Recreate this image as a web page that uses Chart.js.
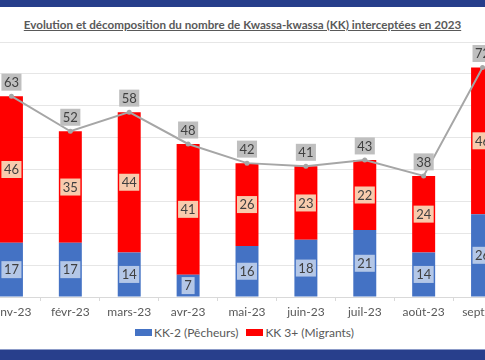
<!DOCTYPE html>
<html>
<head>
<meta charset="utf-8">
<script src="https://cdn.jsdelivr.net/npm/chart.js@4.4.1/dist/chart.umd.min.js"></script>
<style>
  html, body { margin:0; padding:0; width:485px; height:360px; overflow:hidden; background:#ffffff; position:relative; font-family:Lato, "Open Sans", sans-serif; }
  #topband { position:absolute; left:0; top:0; width:485px; height:7px; background:#263e8b; }
  #botband { position:absolute; left:0; top:349px; width:485px; height:11px; background:#283f8c; border-top:1px solid #8c9bc8; }
  #title { position:absolute; top:13px; left:0; width:485px; text-align:center; white-space:nowrap; }
  #title span { font-weight:bold; color:#595959; text-decoration:underline; font-size:13px; }
  #wrap { position:absolute; left:-18px; top:30px; width:530px; height:290px; }
  #legend { position:absolute; top:324px; left:2px; width:485px; text-align:center; white-space:nowrap; font-size:12px; color:#595959; line-height:16px; }
  .lg { display:inline-block; vertical-align:middle; }
  .sw { display:inline-block; width:17px; height:7px; vertical-align:middle; margin-right:2px; position:relative; top:-1px; }
</style>
</head>
<body>
<div id="topband"></div>
<div id="title"><span id="tt">Evolution et décomposition du nombre de Kwassa-kwassa (KK) interceptées en 2023</span></div>
<div id="wrap"><canvas id="c" width="530" height="290"></canvas></div>
<div id="legend"><span class="lg" style="margin-right:8px"><span class="sw" style="background:#4472c4"></span>KK-2 (Pêcheurs)</span><span class="lg"><span class="sw" style="background:#ff0000"></span>KK 3+ (Migrants)</span></div>
<div id="botband"></div>
<script>
const categories = ["janv-23","févr-23","mars-23","avr-23","mai-23","juin-23","juil-23","août-23","sept-23"];
const pecheurs = [17,17,14,7,16,18,21,14,26];
const migrants = [46,35,44,41,26,23,22,24,46];
const totals = [63,52,58,48,42,41,43,38,72];
const yTicks = [0,10,20,30,40,50,60,70,80];

// fit title width
(function(){
  const t = document.getElementById('tt');
  let fs = 13;
  t.style.fontSize = fs + 'px';
  const w = t.getBoundingClientRect().width;
  fs = fs * 438 / w;
  t.style.fontSize = fs.toFixed(2) + 'px';
})();

const labelPlugin = {
  id: 'boxLabels',
  afterDatasetsDraw(chart) {
    const ctx = chart.ctx;
    ctx.save();
    ctx.font = '13px Lato, "Open Sans", sans-serif';
    ctx.textAlign = 'center';
    ctx.textBaseline = 'middle';
    const drawBox = (x, y, txt, bg) => {
      const tw = ctx.measureText(txt).width;
      const w = Math.max(tw + 5, 13), h = 17;
      ctx.fillStyle = bg;
      ctx.fillRect(x - w/2, y - h/2, w, h);
      ctx.fillStyle = '#404040';
      ctx.fillText(txt, x, y + 0.5);
    };
    [[0, '#b4c7e7'], [1, '#f8cbad']].forEach(([di, bg]) => {
      const meta = chart.getDatasetMeta(di);
      const data = chart.data.datasets[di].data;
      meta.data.forEach((bar, i) => {
        drawBox(bar.x, (bar.y + bar.base) / 2, String(data[i]), bg);
      });
    });
    const lm = chart.getDatasetMeta(2);
    lm.data.forEach((pt, i) => {
      drawBox(pt.x, pt.y - 14, String(totals[i]), '#bfbfbf');
    });
    ctx.restore();
  }
};

const W0 = 530, H0 = 290;
const chart = new Chart(document.getElementById('c'), {
  type: 'bar',
  data: {
    labels: categories,
    datasets: [
      { label: 'KK-2 (Pêcheurs)', data: pecheurs, backgroundColor: '#4472c4', stack: 'kk', order: 2,
        categoryPercentage: 1, barPercentage: 0.39 },
      { label: 'KK 3+ (Migrants)', data: migrants, backgroundColor: '#ff0000', stack: 'kk', order: 2,
        categoryPercentage: 1, barPercentage: 0.39 },
      { type: 'line', label: 'Total', data: totals, stack: 'tot', order: 1,
        borderColor: '#a6a6a6', backgroundColor: '#a6a6a6', borderWidth: 2,
        pointRadius: 2.5, pointBackgroundColor: '#a6a6a6', pointBorderWidth: 0, tension: 0 }
    ]
  },
  options: {
    responsive: false,
    animation: false,
    maintainAspectRatio: false,
    layout: { padding: { top: 12, left: 0, right: 0, bottom: 0 } },
    plugins: { legend: { display: false }, tooltip: { enabled: false }, title: { display: false } },
    scales: {
      x: {
        stacked: true,
        offset: true,
        grid: { display: true, drawOnChartArea: false, tickLength: 4, color: '#d9d9d9', offset: true },
        border: { display: true, color: '#d9d9d9' },
        ticks: { color: '#595959', font: { family: 'Lato, "Open Sans", sans-serif', size: 12 }, padding: 4, maxRotation: 0, autoSkip: false },
        afterFit: s => { s.height = 23; s.paddingLeft = 0; s.paddingRight = 0; }
      },
      y: {
        stacked: true,
        min: 0, max: 80,
        afterBuildTicks: s => { s.ticks = yTicks.map(v => ({ value: v })); },
        grid: { color: '#e6e6e6', drawTicks: false },
        border: { display: false },
        ticks: { display: false },
        afterFit: s => { s.width = 0; }
      }
    }
  },
  plugins: [labelPlugin]
});

// Align the plot area so that category centres match the reference
(function(){
  const desiredLeft = -18.1, desiredRight = 512;
  const ca = chart.chartArea;
  const extra = (W0 - (ca.right - ca.left));
  const newW = Math.round((desiredRight - desiredLeft) + extra);
  chart.resize(newW, H0);
  const ca2 = chart.chartArea;
  const wrap = document.getElementById('wrap');
  wrap.style.width = newW + 'px';
  wrap.style.left = (desiredLeft - ca2.left) + 'px';
})();
</script>
</body>
</html>
